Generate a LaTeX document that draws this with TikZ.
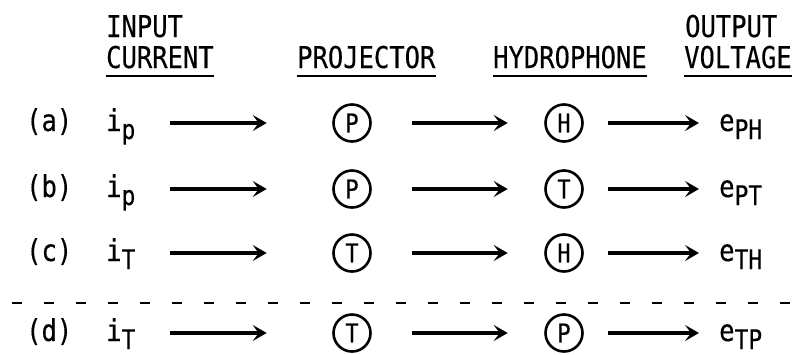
\documentclass[tikz,border=0pt]{standalone}
\usepackage{fontspec}
\usetikzlibrary{arrows.meta}
\newfontfamily\tw[FakeStretch=0.85,FakeBold=0.3]{DejaVu Sans Mono}
\newcommand{\sbs}[1]{\raisebox{-8pt}{\fontsize{27}{27}\selectfont #1}}
\begin{document}
\begin{tikzpicture}[x=1pt,y=-1pt,
  hdr/.style={anchor=base west,inner sep=0pt,font=\tw\fontsize{30}{30}\selectfont},
  lbl/.style={anchor=base west,inner sep=0pt,font=\tw\fontsize{30}{30}\selectfont},
  cur/.style={lbl,text width=30pt,align=left},
  xdcr/.style={circle,draw,line width=2.6pt,minimum size=37pt,inner sep=0pt,
    font=\tw\fontsize{26}{26}\selectfont},
  arr/.style={line width=3.4pt,-{Stealth[length=14pt,width=16pt,inset=6pt]}},
  uline/.style={line width=2.5pt},
  sep/.style={line width=2.5pt,dash pattern=on 10pt off 22pt}]
\useasboundingbox (0,0) rectangle (803,354);

% column headings
\node[hdr] (hin)  at (106,37) {INPUT};
\node[hdr] (hcur) at (106,68) {CURRENT};
\node[hdr] (hpro) at (297,68) {PROJECTOR};
\node[hdr] (hhyd) at (493,68) {HYDROPHONE};
\node[hdr] (hout) at (685,37) {OUTPUT};
\node[hdr] (hvol) at (684,68) {VOLTAGE};
\foreach \h in {hcur,hpro,hhyd,hvol}
  \draw[uline] ([yshift=-8pt]\h.base west) -- ([yshift=-8pt]\h.base east);

% one measurement chain per row: label, current, projector, hydrophone, voltage
\foreach \r/\y/\cs/\pa/\pb/\es in {a/123/p/P/H/PH, b/189/p/P/T/PT, c/253/T/T/H/TH, d/333/T/T/P/TP}{
  \node[lbl] (lab\r) at (26,\y+8) {(\r)};
  \node[cur] (i\r) at (106,\y+8) {i\sbs{\cs}};
  \node[xdcr] (s\r) at (352,\y) {\pa};
  \node[xdcr] (t\r) at (564,\y) {\pb};
  \node[lbl] (e\r) at (719,\y+8) {e\sbs{\es}};
  \draw[arr,shorten <=34pt,shorten >=65.5pt] (i\r.east |- s\r) -- (s\r);
  \draw[arr,shorten <=40.5pt,shorten >=36.5pt] (s\r.east) -- (t\r.west);
  \draw[arr,shorten <=24.5pt,shorten >=20pt] (t\r.east) -- (e\r.west |- t\r);
}

% separator between the reciprocal pair and the check measurement
\coordinate (sepL) at (12,303);
\coordinate (sepR) at (796,303);
\draw[sep] (sepL) -- (sepR);
\end{tikzpicture}
\end{document}
